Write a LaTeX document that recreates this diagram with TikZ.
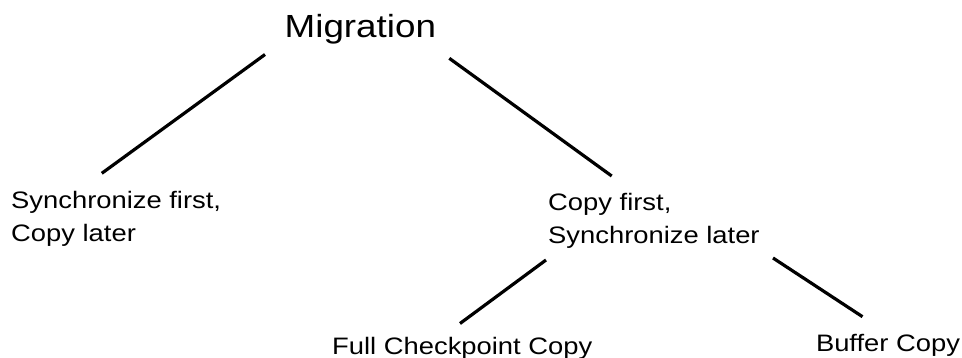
\documentclass[tikz,border=0pt]{standalone}
\usepackage{fontspec}
\setmainfont{Liberation Sans}[FakeStretch=1.15]

\tikzset{
  leaf/.style={anchor=base west, inner sep=0pt, align=left, font=\fontsize{23.8}{33.5}\selectfont},
  branch/.style={line width=3.2pt},
}

\begin{document}
\begin{tikzpicture}[x=1pt,y=-1pt]
	%%%%% START %%%%%
	\useasboundingbox (0,0) rectangle (962,358);

	\node[leaf, font=\fontsize{32}{38}\selectfont] (mig) at (284.5, 37.3) {Migration};

	% two-line nodes sit on the baseline of their last line
	\node[leaf] (syncfirst) at (11, 241.8) {Synchronize first,\\Copy later};
	\node[leaf] (copyfirst) at (548, 244) {Copy first,\\Synchronize later};

	\node[leaf] (fullcp) at (332, 354) {Full Checkpoint Copy};
	\node[leaf] (bufcp) at (815.8, 352) {Buffer Copy};

	\draw[branch] ([shift={(-19.5,17.2)}]mig.base west) -- ([shift={(90.8,-68.5)}]syncfirst.base west);
	\draw[branch] ([shift={(164.8,21)}]mig.base west) -- ([shift={(63.7,-68)}]copyfirst.base west);

	\draw[branch] ([shift={(-2,16)}]copyfirst.base west) -- ([shift={(128,-30.5)}]fullcp.base west);
	\draw[branch] ([shift={(225,14)}]copyfirst.base west) -- ([shift={(46.7,-35.3)}]bufcp.base west);
	%%%%% END %%%%%
\end{tikzpicture}
\end{document}
